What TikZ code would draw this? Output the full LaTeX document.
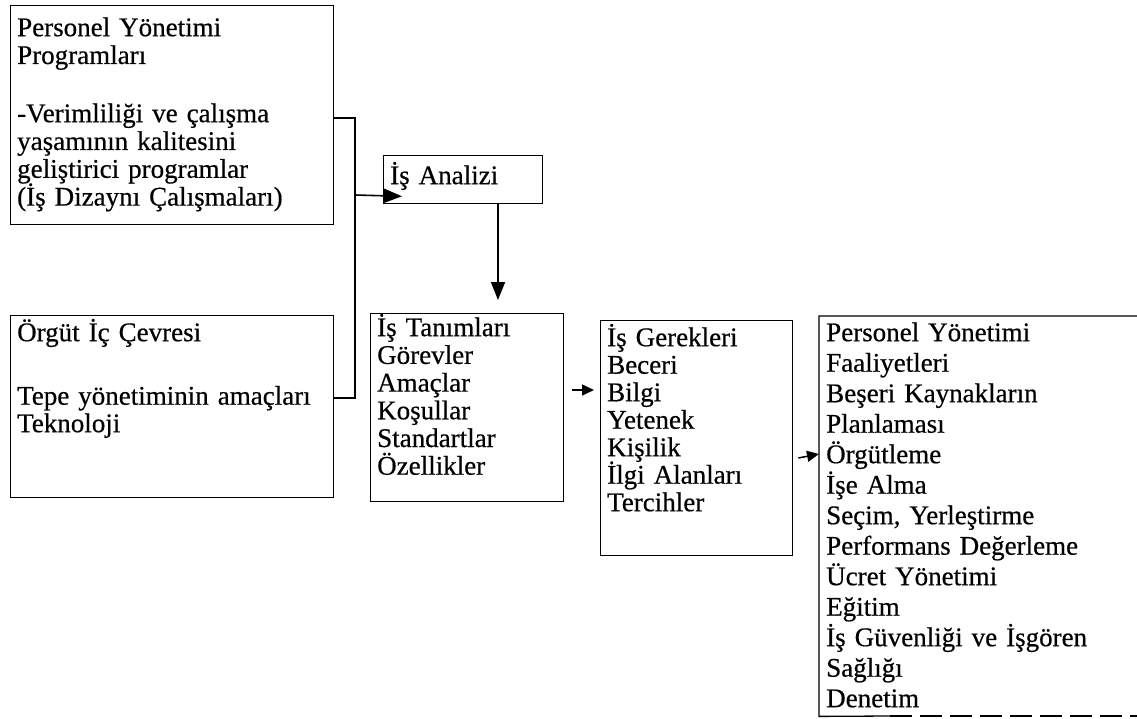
\documentclass[tikz,border=0pt]{standalone}
\usepackage{fontspec}
\setmainfont{Liberation Serif}[FakeBold=0.5]
\usetikzlibrary{arrows.meta,calc}
\newcommand\dgfont[1]{\fontsize{27}{#1}\selectfont\lineskiplimit=-100pt\relax}
\newcommand\fst{\rule{0pt}{26pt}}
\begin{document}
\begin{tikzpicture}[x=1pt,y=-1pt,
  boxnode/.style={draw, line width=1.3pt, anchor=north west, inner sep=0pt},
  openbox/.style={anchor=north west, inner sep=0pt},
  txt/.style={anchor=north west, inner sep=0pt, text width=310pt, align=left},
  conn/.style={line width=1.6pt},
  bigarrow/.style={line width=1.6pt, -{Triangle[length=18pt,width=14pt]}},
  smallarrow/.style={line width=1.5pt, -{Triangle[length=12pt,width=11pt]}}]
\useasboundingbox (0,0) rectangle (1137,719);
% boxes
\node[boxnode, minimum width=323pt, minimum height=219pt] (b1) at (10,5) {};
\node[boxnode, minimum width=323pt, minimum height=182pt] (b2) at (10,315) {};
\node[boxnode, minimum width=159pt, minimum height=48pt] (ia) at (383,155) {};
\node[boxnode, minimum width=193pt, minimum height=188pt] (b3) at (370,313) {};
\node[boxnode, minimum width=192pt, minimum height=235pt] (b4) at (600,320) {};
\node[openbox, minimum width=318pt, minimum height=400pt] (b5) at (819,316) {};
\draw[line width=1.3pt] (1137,316) -- (b5.north west) -- (b5.south west) -- (890,716);
\draw[line width=1.3pt, dash pattern=on 22pt off 8pt] (890,716) -- (1137,716);
% texts
\node[txt, font=\dgfont{27.8}] (t1) at (17,10) {\fst Personel Yönetimi\\Programları\\[30.4pt]-Verimliliği ve çalışma\\yaşamının kalitesini\\geliştirici programlar\\(İş Dizaynı Çalışmaları)};
\node[txt, font=\dgfont{27.5}] (t2) at (17,315) {\fst Örgüt İç Çevresi\\[36pt]Tepe yönetiminin amaçları\\Teknoloji};
\node[txt, text width=150pt, font=\dgfont{27.5}] (tia) at (390,158) {\fst İş Analizi};
\node[txt, text width=185pt, font=\dgfont{27.7}] (t3) at (377,310) {\fst İş Tanımları\\Görevler\\Amaçlar\\Koşullar\\Standartlar\\Özellikler};
\node[txt, text width=185pt, font=\dgfont{27.5}] (t4) at (607,320) {\fst İş Gerekleri\\Beceri\\Bilgi\\Yetenek\\Kişilik\\İlgi Alanları\\Tercihler};
\node[txt, font=\dgfont{30.5}] (t5) at (826,315) {\fst Personel Yönetimi\\Faaliyetleri\\Beşeri Kaynakların\\Planlaması\\Örgütleme\\İşe Alma\\Seçim, Yerleştirme\\Performans Değerleme\\Ücret Yönetimi\\Eğitim\\İş Güvenliği ve İşgören\\Sağlığı\\Denetim};
% connectors
\coordinate (bt) at (355,118);
\coordinate (bb) at (355,398);
\coordinate (bm) at (355,195);
\draw[conn] ($(b1.north east)+(0,113)$) -- (bt) -- (bb) -- ($(b2.north east)+(0,83)$);
\draw[bigarrow] (bm) -- ($(ia.south west)+(19,-8)$);
\draw[bigarrow] ($(ia.south west)+(115,0)$) -- ($(b3.north west)+(128,-13)$);
\draw[smallarrow] ($(b3.north east)+(8,77)$) -- ($(b4.north west)+(-6,70)$);
\draw[smallarrow] ($(b4.north east)+(5,138)$) -- ($(b5.north west)+(0,138)$);
\end{tikzpicture}
\end{document}
